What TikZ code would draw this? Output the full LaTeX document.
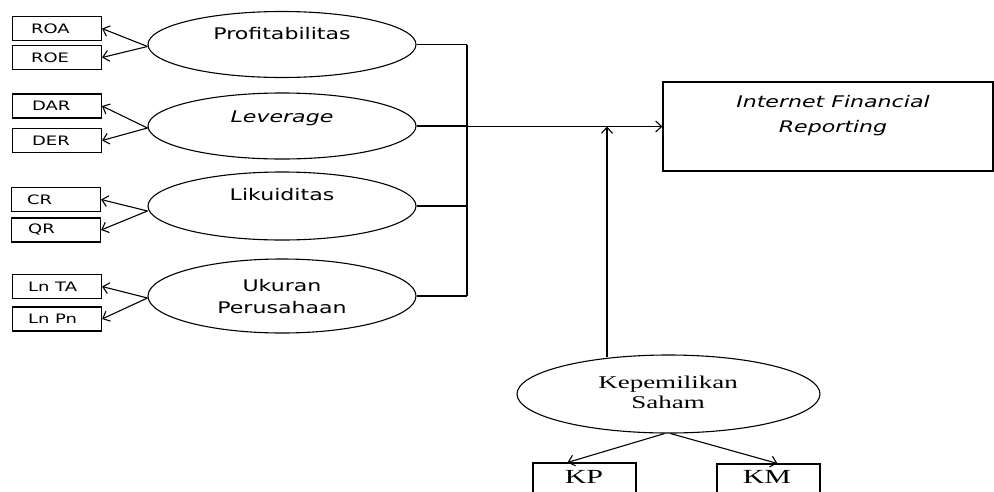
\documentclass[tikz,border=0pt]{standalone}
\usepackage{fontspec}
\usetikzlibrary{shapes.geometric,arrows.meta,calc}
\newfontfamily\dvsans{DejaVu Sans}[FakeStretch=1.38]
\newfontfamily\tmsr{Liberation Serif}[FakeStretch=1.5]
\begin{document}
\begin{tikzpicture}[x=1pt,y=-1pt,
  ln/.style={line width=1.1pt},
  ell/.style={draw, ellipse, line width=1.1pt, minimum width=268pt, inner sep=0pt},
  sbox/.style={draw, line width=1.1pt, minimum width=89pt, minimum height=24pt, inner sep=0pt},
  stxt/.style={anchor=west, inner sep=0pt, font=\dvsans\fontsize{13}{15}\selectfont},
  etxt/.style={align=center, inner sep=0pt, font=\dvsans\fontsize{16}{22}\selectfont},
  ttxt/.style={align=center, inner sep=0pt, font=\tmsr\fontsize{18}{20}\selectfont},
  arr/.style={line width=1.1pt, -{Straight Barb[length=6pt,width=11pt]}}]
\useasboundingbox (0,0) rectangle (994,491);

% small boxes
\node[sbox] (roa) at (57,28.5) {};
\node[sbox] (roe) at (57,57.5) {};
\node[sbox] (dar) at (57,106) {};
\node[sbox] (der) at (57,140.5) {};
\node[sbox] (cr) at (56,199.5) {};
\node[sbox] (qr) at (56,230) {};
\node[sbox] (lnta) at (57,286.5) {};
\node[sbox] (lnpn) at (57,319) {};
\node[stxt] (troa) at ($(roa.west)+(19,0)$) {ROA};
\node[stxt] (troe) at ($(roe.west)+(19,0)$) {ROE};
\node[stxt] (tdar) at ($(dar.west)+(20,0)$) {DAR};
\node[stxt] (tder) at ($(der.west)+(20,0)$) {DER};
\node[stxt] (tcr) at ($(cr.west)+(16,0)$) {CR};
\node[stxt] (tqr) at ($(qr.west)+(17,0)$) {QR};
\node[stxt] (tlnta) at ($(lnta.west)+(16,0)$) {Ln TA};
\node[stxt] (tlnpn) at ($(lnpn.west)+(16,0)$) {Ln Pn};

% ellipses
\node[ell, minimum height=66pt] (p) at (282,44.5) {};
\node[ell, minimum height=66pt] (lev) at (282,126) {};
\node[ell, minimum height=68pt] (lik) at (282,206) {};
\node[ell, minimum height=74pt] (uk) at (282,296) {};
\node[etxt] (tp) at (282,34) {Profitabilitas};
\node[etxt] (tlev) at (282,118) {\itshape Leverage};
\node[etxt] (tlik) at (282,195) {Likuiditas};
\node[etxt] (tuk) at (282,297) {Ukuran\\Perusahaan};

% arrows to indicators
\draw[arr] ($(p.west)+(0,2)$) -- (roa.east);
\draw[arr] ($(p.west)+(0,2)$) -- (roe.east);
\draw[arr] ($(lev.west)+(0,2)$) -- (dar.east);
\draw[arr] ($(lev.west)+(0,2)$) -- (der.east);
\draw[arr] ($(lik.west)+(0,5)$) -- (cr.east);
\draw[arr] ($(lik.west)+(0,5)$) -- (qr.east);
\draw[arr] ($(uk.west)+(0,2)$) -- (lnta.east);
\draw[arr] ($(uk.west)+(0,2)$) -- (lnpn.east);

% target box
\node[draw, line width=1.1pt, minimum width=330pt, minimum height=89pt, inner sep=0pt] (ifr) at (828,126.5) {};
\node[align=center, inner sep=0pt, font=\dvsans\itshape\fontsize{16}{25}\selectfont] (tifr) at (833,115.5) {Internet Financial\\Reporting};

% bus
\coordinate (bus) at (467,0);
\draw[ln] (p.east) -- (p.east -| bus);
\draw[ln] (lev.east) -- (lev.east -| bus);
\draw[ln] (lik.east) -- (lik.east -| bus);
\draw[ln] (uk.east) -- (uk.east -| bus);
\draw[ln] (p.east -| bus) -- (uk.east -| bus);
\draw[arr] (bus |- ifr.west) -- (ifr.west);

% moderating
\node[ell, minimum width=303pt, minimum height=78pt] (k) at (668.5,394) {};
\node[ttxt] (tk) at (668,392) {Kepemilikan\\Saham};
\coordinate (kup) at (607,357);
\draw[arr] (kup) -- (kup |- ifr.west);

\node[draw, line width=1.1pt, minimum width=103pt, minimum height=40pt, inner sep=0pt] (kp) at (584.5,483) {};
\node[draw, line width=1.1pt, minimum width=103pt, minimum height=40pt, inner sep=0pt] (km) at (768.5,484) {};
\node[inner sep=0pt, font=\tmsr\fontsize{20}{22}\selectfont] (tkp) at (584,477) {KP};
\node[inner sep=0pt, font=\tmsr\fontsize{20}{22}\selectfont] (tkm) at (767,477) {KM};
\draw[arr] ($(k.south)+(-4,0)$) -- ($(kp.north)+(-17,0)$);
\draw[arr] ($(k.south)+(2,0)$) -- ($(km.north)+(9,0)$);
\end{tikzpicture}
\end{document}
